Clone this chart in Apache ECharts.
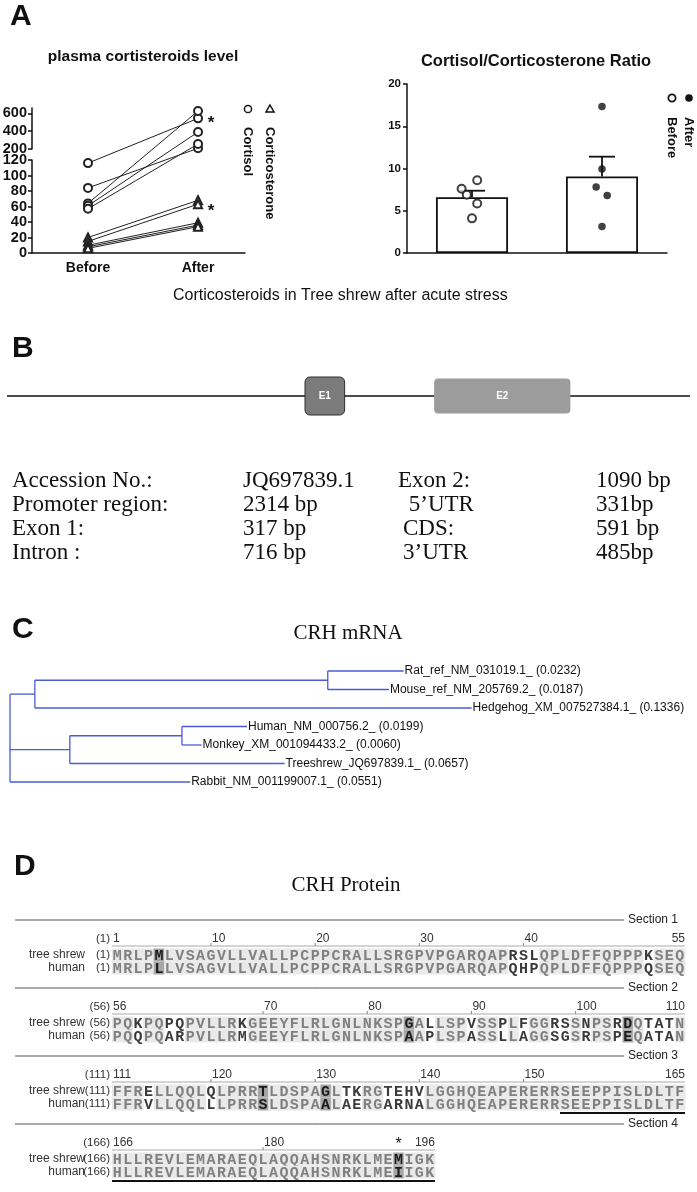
<!DOCTYPE html>
<html>
<head>
<meta charset="utf-8">
<script src="https://cdn.jsdelivr.net/npm/echarts@6/dist/echarts.min.js"></script>
<style>
  html, body { margin: 0; padding: 0; background: #fff; }
  #chart { width: 697px; height: 1192px; }
</style>
</head>
<body>
<div id="chart"></div>
<script>
// ---------- panel A, left: plasma levels per animal ----------
const timeLabels = ['Before', 'After'];
const cortisolBefore = [116, 84, 64, 61, 57];
const cortisolAfter = [543, 208, 625, 390, 256];
const corticoBefore = [20, 15, 10, 8, 6];
const corticoAfter = [68, 63, 39, 36, 34];
const upperTicks = [200, 400, 600];
const lowerTicks = [0, 20, 40, 60, 80, 100, 120];

// ---------- panel A, right: cortisol / corticosterone ratio ----------
const ratioGroups = ['Before', 'After'];
const ratioMeans = [6.6, 9.05];
const ratioSem = [0.77, 2.35];
const ratioBefore = [7.6, 6.9, 8.6, 5.85, 4.1];
const ratioAfter = [17.35, 9.95, 7.8, 6.8, 3.15];
const jitterBefore = [-0.08, -0.04, 0.04, 0.04, 0];
const jitterAfter = [0, 0, -0.045, 0.04, 0];

// ---------- panel B: gene structure ----------
const geneParts = ['Promoter', 'E1', 'Intron', 'E2'];
const genePartLengths = [2314, 317, 716, 1090];
const infoLabels = ['Accession No.:', 'Promoter region:', 'Exon 1:', 'Intron :'];
const infoValues = ['JQ697839.1', '2314 bp', '317 bp', '716 bp'];
const infoLabels2 = ['Exon 2:', ' 5\u2019UTR', 'CDS:', '3\u2019UTR'];
const infoValues2 = ['1090 bp', '331bp', '591 bp', '485bp'];

// ---------- panel C: CRH mRNA tree ----------
const leafNames = ['Rat_ref_NM_031019.1_', 'Mouse_ref_NM_205769.2_', 'Hedgehog_XM_007527384.1_',
  'Human_NM_000756.2_', 'Monkey_XM_001094433.2_', 'Treeshrew_JQ697839.1_', 'Rabbit_NM_001199007.1_'];
const leafDist = [0.0232, 0.0187, 0.1336, 0.0199, 0.0060, 0.0657, 0.0551];
const leafParent = ['RM', 'RM', 'RMH', 'HM', 'HM', 'HMT', 'root'];
const nodeNames = ['RM', 'RMH', 'HM', 'HMT'];
const nodeParent = ['RMH', 'root', 'HMT', 'root'];
const nodeDist = [0.0896, 0.0076, 0.0343, 0.0183];

// ---------- panel D: CRH protein alignment ----------
const sectionStarts = [1, 56, 111, 166];
const treeShrewSeq = [
  'MRLPMLVSAGVLLVALLPCPPCRALLSRGPVPGARQAPRSLQPLDFFQPPPKSEQ',
  'PQKPQPQPVLLRKGEEYFLRLGNLNKSPGALLSPVSSPLFGGRSSNPSRDQTATN',
  'FFRELLQQLQLPRRTLDSPAGLTKRGTEHVLGGHQEAPERERRSEEPPISLDLTF',
  'HLLREVLEMARAEQLAQQAHSNRKLMEMIGK'
];
const humanSeq = [
  'MRLPLLVSAGVLLVALLPCPPCRALLSRGPVPGARQAPQHPQPLDFFQPPPQSEQ',
  'PQQPQARPVLLRMGEEYFLRLGNLNKSPAAPLSPASSLLAGGSGSRPSPEQATAN',
  'FFRVLLQQLLLPRRSLDSPAALAERGARNALGGHQEAPERERRSEEPPISLDLTF',
  'HLLREVLEMARAEQLAQQAHSNRKLMEIIGK'
];
const rulerMarks = [[1, 10, 20, 30, 40, 55], [56, 70, 80, 90, 100, 110], [111, 120, 130, 140, 150, 165], [166, 180, 196]];
const highlightPos = [5, 84, 105, 125, 131, 193];
const starPos = 193;
const underlineRange = [154, 196];

// ---------- layout ----------
const sectionTop = [20, 88, 156, 224];   // y offsets inside the alignment grid
const SANS = '"Liberation Sans", Arial, sans-serif';
const SERIF = '"Liberation Serif", "Times New Roman", serif';
const MONO = '"Liberation Mono", "Courier New", monospace';

// broken axis of panel A-left: lower part 0-120, upper part 200-659
function brokenY(v) {
  return v <= 120 ? v * 93 / 120 : 104 + (v - 200) * 41 / 459;
}

const chart = echarts.init(document.getElementById('chart'), null, { renderer: 'canvas' });

// --- tree geometry from branch lengths ---
const parentOf = {}, distOf = {};
nodeNames.forEach((n, i) => { parentOf[n] = nodeParent[i]; distOf[n] = nodeDist[i]; });
leafNames.forEach((n, i) => { parentOf[n] = leafParent[i]; distOf[n] = leafDist[i]; });
function nodeX(n) { return n === 'root' ? 0 : nodeX(parentOf[n]) + distOf[n]; }
function childrenOf(n) { return Object.keys(parentOf).filter(k => parentOf[k] === n); }
function nodeY(n) {
  const li = leafNames.indexOf(n);
  if (li >= 0) return li;
  const ys = childrenOf(n).map(nodeY);
  return (Math.min(...ys) + Math.max(...ys)) / 2;
}
const treeSegments = [];
Object.keys(parentOf).forEach(n => {
  treeSegments.push([nodeX(parentOf[n]), nodeY(n), nodeX(n), nodeY(n)]);
});
nodeNames.concat(['root']).forEach(n => {
  const ys = childrenOf(n).map(nodeY);
  treeSegments.push([nodeX(n), Math.min(...ys), nodeX(n), Math.max(...ys)]);
});
const leafTips = leafNames.map(n => [nodeX(n), nodeY(n)]);

// --- gene exons ---
const exonData = [];
let acc = 0;
genePartLengths.forEach((len, i) => {
  if (geneParts[i].startsWith('E')) exonData.push([acc, acc + len, i]);
  acc += len;
});
const geneMin = -70, geneMax = 5394;

// --- panel A-left series ---
const lineSeries = [];
cortisolBefore.forEach((b, i) => {
  lineSeries.push({
    type: 'line', xAxisIndex: 2, yAxisIndex: 2,
    data: [[0, brokenY(b)], [1, brokenY(cortisolAfter[i])]],
    symbol: 'emptyCircle', symbolSize: 8,
    lineStyle: { color: '#222', width: 1 },
    itemStyle: { color: '#222', borderWidth: 1.2 }, z: 3
  });
});
corticoBefore.forEach((b, i) => {
  lineSeries.push({
    type: 'line', xAxisIndex: 2, yAxisIndex: 2,
    data: [[0, brokenY(b)], [1, brokenY(corticoAfter[i])]],
    symbol: 'emptyTriangle', symbolSize: 8,
    lineStyle: { color: '#222', width: 1 },
    itemStyle: { color: '#222', borderWidth: 1.2 }, z: 3
  });
});

// --- alignment renderer: one item per section ---
function renderSection(params, api) {
  const s = api.value(0);
  const top = api.value(1);
  const ts = treeShrewSeq[s], hu = humanSeq[s];
  const first = sectionStarts[s];
  const n = ts.length;
  const cw = api.size([1, 0])[0];
  const colX = c => api.coord([c, top])[0];
  const Y = off => api.coord([0, top + off])[1];
  const kids = [];
  const lineY = Y(0);
  const small = '11.5px ' + SANS;
  kids.push({ type: 'line', shape: { x1: 15, y1: lineY, x2: 624, y2: lineY }, style: { stroke: '#555', lineWidth: 1 } });
  kids.push({ type: 'text', style: { text: 'Section ' + (s + 1), x: 628, y: lineY, verticalAlign: 'middle', font: '12px ' + SANS, fill: '#222' } });

  // ruler
  const rY = Y(19);
  kids.push({ type: 'text', style: { text: '(' + first + ')', x: 110, y: rY, align: 'right', verticalAlign: 'middle', font: small, fill: '#333' } });
  kids.push({ type: 'line', shape: { x1: colX(0), y1: Y(26), x2: colX(n), y2: Y(26) }, style: { stroke: '#aaa', lineWidth: 1 } });
  const marks = rulerMarks[s];
  marks.forEach((m, k) => {
    const c = m - first;
    let x = colX(c + 0.5) + 1, align = 'left';
    if (k === 0) { x = colX(c) + 1; }
    else if (k === marks.length - 1) { x = colX(c + 1); align = 'right'; }
    else {
      kids.push({ type: 'line', shape: { x1: colX(c + 0.5), y1: Y(23), x2: colX(c + 0.5), y2: Y(26) }, style: { stroke: '#888', lineWidth: 1 } });
    }
    kids.push({ type: 'text', style: { text: String(m), x: x, y: rY, align: align, verticalAlign: 'middle', font: '12px ' + SANS, fill: '#333' } });
  });
  if (starPos >= first && starPos < first + n) {
    kids.push({ type: 'text', style: { text: '*', x: colX(starPos - first + 0.5), y: Y(21), align: 'center', verticalAlign: 'middle', font: '16px ' + SANS, fill: '#111' } });
  }

  // sequence rows
  const rows = [[ts, 'tree shrew', 35], [hu, 'human', 48]];
  rows.forEach(([seq, name, off]) => {
    const ry = Y(off);
    kids.push({ type: 'text', style: { text: name, x: 85, y: ry, align: 'right', verticalAlign: 'middle', font: '12px ' + SANS, fill: '#333' } });
    kids.push({ type: 'text', style: { text: '(' + first + ')', x: 110, y: ry, align: 'right', verticalAlign: 'middle', font: small, fill: '#333' } });
    for (let i = 0; i < n; i++) {
      const pos = first + i;
      const same = ts[i] === hu[i];
      const hl = highlightPos.indexOf(pos) >= 0;
      const bg = hl ? '#a6a6a6' : (same ? '#e9e9e9' : null);
      const fg = hl ? '#1a1a1a' : (same ? '#808080' : '#3a3a3a');
      if (bg) {
        kids.push({ type: 'rect', shape: { x: colX(i), y: ry - 6.5, width: cw + 0.4, height: 13 }, style: { fill: bg } });
      }
      kids.push({ type: 'text', style: { text: seq[i], x: colX(i + 0.5), y: ry + 1, align: 'center', verticalAlign: 'middle', font: 'bold 15px ' + MONO, fill: fg } });
    }
  });
  // underline in the human row
  const u0 = Math.max(underlineRange[0], first), u1 = Math.min(underlineRange[1], first + n - 1);
  if (u0 <= u1) {
    kids.push({ type: 'line', shape: { x1: colX(u0 - first), y1: Y(57), x2: colX(u1 - first + 1), y2: Y(57) }, style: { stroke: '#111', lineWidth: 2 } });
  }
  return { type: 'group', children: kids };
}

const yLine = { show: true, onZero: false, lineStyle: { color: '#111', width: 1.5 } };
const leftTickLabel = { margin: 5, color: '#111', fontWeight: 'bold', fontSize: 14.5, fontFamily: SANS };

const option = {
  animation: false,
  backgroundColor: '#fff',
  grid: [
    { left: 32, width: 213, top: 108, height: 41, containLabel: false, outerBoundsMode: 'none' },
    { left: 32, width: 213, top: 160, height: 93, containLabel: false, outerBoundsMode: 'none' },
    { left: 32, width: 213, top: 108, height: 145, containLabel: false, outerBoundsMode: 'none' },
    { left: 407, width: 260, top: 84, height: 169, containLabel: false, outerBoundsMode: 'none' },
    { left: 7, width: 683, top: 377, height: 38, containLabel: false, outerBoundsMode: 'none' },
    { left: 10, width: 680, top: 671, height: 111, containLabel: false, outerBoundsMode: 'none' },
    { left: 112, width: 573, top: 900, height: 292, containLabel: false, outerBoundsMode: 'none' }
  ],
  xAxis: [
    { gridIndex: 0, type: 'value', min: -0.509, max: 1.427, show: false },
    {
      gridIndex: 1, type: 'value', min: -0.509, max: 1.427,
      axisLine: { onZero: false, lineStyle: { color: '#111', width: 1.5 } }, axisTick: { show: false }, splitLine: { show: false },
      axisLabel: { customValues: [0, 1], formatter: v => timeLabels[Math.round(v)], margin: 8, color: '#111', fontWeight: 'bold', fontSize: 14, fontFamily: SANS }
    },
    { gridIndex: 2, type: 'value', min: -0.509, max: 1.427, show: false },
    {
      gridIndex: 3, type: 'category', data: ratioGroups,
      axisLine: { onZero: false, lineStyle: { color: '#111', width: 1.5 } },
      axisTick: { alignWithLabel: true, length: 4, lineStyle: { color: '#111', width: 1.5 } },
      axisLabel: { show: false }, splitLine: { show: false }
    },
    { gridIndex: 3, type: 'value', min: -0.5, max: 1.5, show: false },
    { gridIndex: 4, type: 'value', min: geneMin, max: geneMax, show: false },
    { gridIndex: 5, type: 'value', min: 0, max: 0.208, show: false },
    { gridIndex: 6, type: 'value', min: 0, max: 55, show: false }
  ],
  yAxis: [
    {
      gridIndex: 0, type: 'value', min: 200, max: 659,
      axisLine: yLine,
      axisTick: { show: true, customValues: upperTicks, length: 4, lineStyle: { color: '#111', width: 1.5 } },
      axisLabel: Object.assign({ customValues: upperTicks }, leftTickLabel),
      splitLine: { show: false }
    },
    {
      gridIndex: 1, type: 'value', min: 0, max: 120, interval: 20,
      axisLine: yLine,
      axisTick: { show: true, length: 4, lineStyle: { color: '#111', width: 1.5 } },
      axisLabel: Object.assign({ customValues: lowerTicks }, leftTickLabel),
      splitLine: { show: false }
    },
    { gridIndex: 2, type: 'value', min: 0, max: 145, show: false },
    {
      gridIndex: 3, type: 'value', min: 0, max: 20, interval: 5,
      axisLine: yLine,
      axisTick: { show: true, length: 4, lineStyle: { color: '#111', width: 1.5 } },
      axisLabel: { margin: 6, color: '#111', fontWeight: 'bold', fontSize: 11.5, fontFamily: SANS },
      splitLine: { show: false }
    },
    { gridIndex: 4, type: 'value', min: -1, max: 1, show: false },
    { gridIndex: 5, type: 'value', min: 0, max: 6, inverse: true, show: false },
    { gridIndex: 6, type: 'value', min: 0, max: 292, inverse: true, show: false }
  ],
  series: lineSeries.concat([
    // ratio bars
    {
      type: 'bar', xAxisIndex: 3, yAxisIndex: 3, data: ratioMeans, barWidth: 72,
      itemStyle: { color: '#fff', borderColor: '#111', borderWidth: 1.8 }, z: 2
    },
    {
      type: 'custom', xAxisIndex: 4, yAxisIndex: 3, z: 4,
      data: ratioMeans.map((m, i) => [i, m, ratioSem[i]]),
      encode: { x: 0, y: 1 },
      renderItem: (params, api) => {
        const base = api.coord([api.value(0), api.value(1)]);
        const top = api.coord([api.value(0), api.value(1) + api.value(2)]);
        return {
          type: 'group', children: [
            { type: 'line', shape: { x1: base[0], y1: base[1], x2: top[0], y2: top[1] }, style: { stroke: '#111', lineWidth: 1.8 } },
            { type: 'line', shape: { x1: top[0] - 13, y1: top[1], x2: top[0] + 13, y2: top[1] }, style: { stroke: '#111', lineWidth: 1.8 } }
          ]
        };
      }
    },
    {
      type: 'scatter', xAxisIndex: 4, yAxisIndex: 3, z: 5,
      data: ratioBefore.map((v, i) => [0 + jitterBefore[i], v]),
      symbol: 'emptyCircle', symbolSize: 8, itemStyle: { color: '#111', borderWidth: 1.8 }
    },
    {
      type: 'scatter', xAxisIndex: 4, yAxisIndex: 3, z: 5,
      data: ratioAfter.map((v, i) => [1 + jitterAfter[i], v]),
      symbol: 'circle', symbolSize: 7.5, itemStyle: { color: '#111' }
    },
    // gene backbone + exons
    {
      type: 'line', xAxisIndex: 5, yAxisIndex: 4, data: [[geneMin, 0], [geneMax, 0]],
      symbol: 'none', lineStyle: { color: '#111', width: 1.5 }, z: 1
    },
    {
      type: 'custom', xAxisIndex: 5, yAxisIndex: 4, z: 3,
      data: exonData, encode: { x: [0, 1] },
      renderItem: (params, api) => {
        const isFirst = params.dataIndex === 0;
        const h = isFirst ? 1 : 0.92;
        const p0 = api.coord([api.value(0), h]);
        const p1 = api.coord([api.value(1), -h]);
        return {
          type: 'group', children: [
            {
              type: 'rect', shape: { x: p0[0], y: p0[1], width: p1[0] - p0[0], height: p1[1] - p0[1], r: isFirst ? 5 : 4 },
              style: isFirst ? { fill: '#7b7b7b', stroke: '#2e2e2e', lineWidth: 1 } : { fill: '#9c9c9c' }
            },
            {
              type: 'text', style: { text: geneParts[api.value(2)], x: (p0[0] + p1[0]) / 2, y: (p0[1] + p1[1]) / 2,
                align: 'center', verticalAlign: 'middle', font: 'bold 10px ' + SANS, fill: '#fff' }
            }
          ]
        };
      }
    },
    // tree
    {
      type: 'custom', xAxisIndex: 6, yAxisIndex: 5, z: 2,
      data: treeSegments, encode: { x: [0, 2], y: [1, 3] },
      renderItem: (params, api) => {
        const a = api.coord([api.value(0), api.value(1)]);
        const b = api.coord([api.value(2), api.value(3)]);
        return { type: 'line', shape: { x1: a[0], y1: a[1], x2: b[0], y2: b[1] }, style: { stroke: '#4a5bd4', lineWidth: 1.3 } };
      }
    },
    {
      type: 'custom', xAxisIndex: 6, yAxisIndex: 5, z: 2,
      data: leafTips, encode: { x: 0, y: 1 },
      renderItem: (params, api) => {
        const p = api.coord([api.value(0), api.value(1)]);
        const i = params.dataIndex;
        return {
          type: 'text', style: { text: leafNames[i] + ' (' + leafDist[i].toFixed(4) + ')', x: p[0] + 1, y: p[1],
            verticalAlign: 'middle', font: '12px ' + SANS, fill: '#111' }
        };
      }
    },
    // alignment
    {
      type: 'custom', xAxisIndex: 7, yAxisIndex: 6, z: 2,
      data: sectionStarts.map((s, i) => [i, sectionTop[i]]),
      encode: { x: 0, y: 1 },
      renderItem: renderSection
    }
  ]),
  graphic: { elements: [] }
};

const g = option.graphic.elements;
function label(text, x, y, font, extra) {
  g.push({ type: 'text', x: x, y: y, style: Object.assign({ text: text, font: font, fill: '#111', verticalAlign: 'middle' }, extra || {}) });
}
// panel letters
label('A', 10, 17, 'bold 30px ' + SANS);
label('B', 12, 349, 'bold 30px ' + SANS);
label('C', 12, 630, 'bold 30px ' + SANS);
label('D', 14, 867, 'bold 30px ' + SANS);

// panel A texts
label('plasma cortisteroids level', 143, 57, 'bold 15.5px ' + SANS, { align: 'center' });
label('Cortisol/Corticosterone Ratio', 536, 61, 'bold 16.5px ' + SANS, { align: 'center' });
label('Corticosteroids in Tree shrew after acute stress', 173, 296, '16px ' + SANS);
label('*', 211, 123, 'bold 17px ' + SANS, { align: 'center' });
label('*', 211, 211, 'bold 17px ' + SANS, { align: 'center' });
// left legend
g.push({ type: 'circle', shape: { cx: 248, cy: 109, r: 3.6 }, style: { fill: '#fff', stroke: '#111', lineWidth: 1.5 } });
g.push({ type: 'polygon', shape: { points: [[270, 105], [274, 112], [266, 112]] }, style: { fill: '#fff', stroke: '#111', lineWidth: 1.5 } });
g.push({ type: 'text', x: 248, y: 127, rotation: -Math.PI / 2, style: { text: 'Cortisol', font: 'bold 13px ' + SANS, fill: '#111', verticalAlign: 'middle' } });
g.push({ type: 'text', x: 270, y: 127, rotation: -Math.PI / 2, style: { text: 'Corticosterone', font: 'bold 13px ' + SANS, fill: '#111', verticalAlign: 'middle' } });
// right legend
g.push({ type: 'circle', shape: { cx: 672, cy: 98, r: 3.6 }, style: { fill: '#fff', stroke: '#111', lineWidth: 1.8 } });
g.push({ type: 'circle', shape: { cx: 689, cy: 98, r: 3.8 }, style: { fill: '#111' } });
g.push({ type: 'text', x: 672, y: 117, rotation: -Math.PI / 2, style: { text: 'Before', font: 'bold 13px ' + SANS, fill: '#111', verticalAlign: 'middle' } });
g.push({ type: 'text', x: 689, y: 117, rotation: -Math.PI / 2, style: { text: 'After', font: 'bold 13px ' + SANS, fill: '#111', verticalAlign: 'middle' } });

// panel B info table
const rowY = [481, 505, 529, 553];
infoLabels.forEach((t, i) => {
  label(t, 12, rowY[i], '23px ' + SERIF);
  label(infoValues[i], 243, rowY[i], '23px ' + SERIF);
  label(infoLabels2[i], i === 0 ? 398 : 403, rowY[i], '23px ' + SERIF);
  label(infoValues2[i], 596, rowY[i], '23px ' + SERIF);
});

// panel C / D titles
label('CRH mRNA', 348, 633, '21px ' + SERIF, { align: 'center' });
label('CRH Protein', 346, 885, '21px ' + SERIF, { align: 'center' });

chart.setOption(option);
</script>
</body>
</html>
